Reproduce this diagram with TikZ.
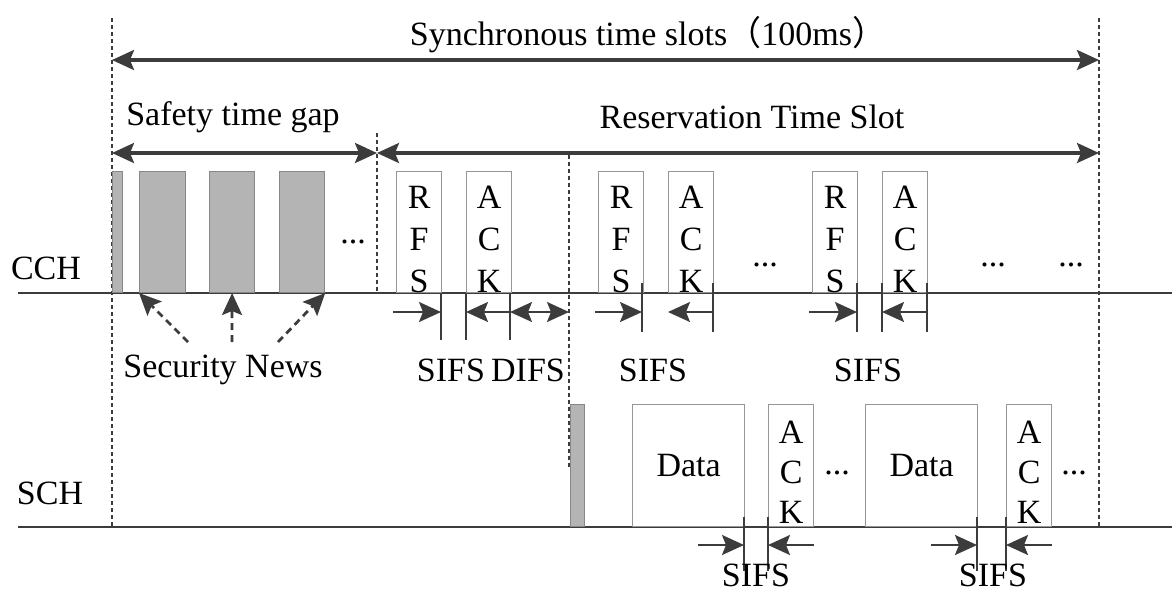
\documentclass[tikz,border=0pt]{standalone}
\usepackage{fontspec}
\setmainfont{Liberation Serif}
\newfontfamily\cjk{Noto Sans CJK SC}
\usepackage{tikz}
\usetikzlibrary{arrows.meta}

\definecolor{linegray}{RGB}{60,60,60}
\definecolor{busygray}{RGB}{180,180,180}
\definecolor{framegray}{RGB}{150,150,150}

\tikzset{
  lbl/.style={font=\fontsize{17}{21}\selectfont,inner sep=0pt},
  stack/.style={lbl,align=center},
  chan/.style={draw=linegray,line width=1.2pt},
  border/.style={draw=linegray,line width=1.1pt,dash pattern=on 2pt off 1.5pt},
  span/.style={draw=linegray,line width=1.6pt},
  gap/.style={draw=linegray,line width=1.1pt},
  tick/.style={draw=linegray,line width=1.1pt},
  news/.style={draw=linegray,line width=1.4pt,dash pattern=on 3.5pt off 2.5pt},
  frame/.style={draw=framegray,line width=0.6pt,anchor=south west,inner sep=0pt,
    minimum width=22.5pt,minimum height=60.5pt},
  busy/.style={frame,fill=busygray,draw=framegray!90!black}
}

\begin{document}
\begin{tikzpicture}[x=0.5pt,y=-0.5pt,>={Stealth[length=11pt,width=10pt,inset=2pt]}]
\useasboundingbox (0,0) rectangle (1172,591);

    % channels
    \coordinate (cchL) at (18,293);  \coordinate (cchR) at (1172,293);
    \coordinate (schL) at (18,527);  \coordinate (schR) at (1172,527);
    \draw[chan] (cchL) -- (cchR);
    \draw[chan] (schL) -- (schR);
    \node[lbl] (cch) at (46,268) {CCH};
    \node[lbl] (sch) at (50,493) {SCH};

    % slot borders
    \coordinate (slotT) at (112,18);    \coordinate (slotB) at (112,527);
    \coordinate (endT) at (1099,18);    \coordinate (endB) at (1099,527);
    \coordinate (gapT) at (377,133);    \coordinate (gapB) at (377,293);
    \coordinate (schT) at (569,155);    \coordinate (schB) at (569,467);
    \draw[border] (slotT) -- (slotB);
    \draw[border] (endT) -- (endB);
    \draw[border] (gapT) -- (gapB);
    \draw[border] (schT) -- (schB);

    % time spans
    \coordinate (syncL) at (112,60);   \coordinate (syncR) at (1099,60);
    \coordinate (safeL) at (112,153);  \coordinate (safeR) at (377,153);
    \coordinate (resR) at (1099,153);
    \draw[span,<->] (syncL) -- (syncR);
    \draw[span,<->] (safeL) -- (safeR);
    \draw[span,<->] (safeR) -- (resR);
    \node[lbl] (sync) at (648,35) {Synchronous time slots{\cjk （}100ms{\cjk ）}};
    \node[lbl] (safe) at (233,117) {Safety time gap};
    \node[lbl] (res) at (752,117) {Reservation Time Slot};

    % security news on CCH
    \node[busy,minimum width=5pt] (sn0) at (112,293) {};
    \node[busy,minimum width=23pt] (sn1) at (139,293) {};
    \node[busy] (sn2) at (209,293) {};
    \node[busy] (sn3) at (279,293) {};
    \node[lbl] (dotsA) at (353,242) {...};
    \node[lbl] (news) at (223,370) {Security News};
    \coordinate (nw1) at (188,342);
    \coordinate (nw2) at (232,342);
    \coordinate (nw3) at (278,342);
    \draw[news,->] (nw1) -- (sn1.south west);
    \draw[news,->] (nw2) -- (sn2.south);
    \draw[news,->] (nw3) -- (sn3.south east);

    % reservation frames on CCH
    \foreach \x/\nm in {396/rfsA,598/rfsB,812/rfsC}
      {\node[frame] (\nm) at (\x,293) {};
       \node[stack] at ([yshift=-3.75pt]\nm.center) {R\\F\\S};}
    \foreach \x/\nm in {466/ackA,668/ackB,882/ackC}
      {\node[frame] (\nm) at (\x,293) {};
       \node[stack] at ([yshift=-3.75pt]\nm.center) {A\\C\\K};}
    \node[lbl] (dotsB) at (765,265) {...};
    \node[lbl] (dotsC) at (993,265) {...};
    \node[lbl] (dotsD) at (1071,265) {...};

    % data frames on SCH
    \node[busy,minimum width=7pt,minimum height=61pt] (sw0) at (570,527) {};
    \node[frame,minimum width=56pt,minimum height=61pt] (dataA) at (632,527) {};
    \node[frame,minimum width=56pt,minimum height=61pt] (dataB) at (865,527) {};
    \node[lbl] at (dataA.center) {Data};
    \node[lbl] at (dataB.center) {Data};
    \foreach \x/\nm in {768/ackD,1006/ackE}
      {\node[frame,minimum height=61pt] (\nm) at (\x,527) {};
       \node[stack,font=\fontsize{17}{20}\selectfont] at ([yshift=-3.5pt]\nm.center) {A\\C\\K};}
    \node[lbl] (dotsE) at (837,473) {...};
    \node[lbl] (dotsF) at (1074,473) {...};

    % interframe spaces, first pair and DIFS
    \foreach \nm/\x in {g1/441,g2/466,g3/510}
      {\coordinate (\nm) at (\x,312); \draw[tick] (\x,293) -- (\x,340);}
    \coordinate (g0) at (393,312);
    \coordinate (g4) at (569,312);
    \draw[gap,->] (g0) -- (g1);
    \draw[gap,->] (g3) -- (g2);
    \draw[gap,<->] (g3) -- (g4);
    \node[lbl] (sifsA) at (451,370) {SIFS};
    \node[lbl] (difs) at (528,370) {DIFS};

    % second and third pair
    \foreach \nm/\x in {h1/642,h3/713,k1/857,k2/882,k3/927}
      {\coordinate (\nm) at (\x,312); \draw[tick] (\x,283) -- (\x,332);}
    \coordinate (h0) at (595,312);  \coordinate (h2) at (668,312);
    \coordinate (k0) at (809,312);
    \draw[gap,->] (h0) -- (h1);
    \draw[gap,->] (h3) -- (h2);
    \draw[gap,->] (k0) -- (k1);
    \draw[gap,->] (k3) -- (k2);
    \node[lbl] (sifsB) at (653,370) {SIFS};
    \node[lbl] (sifsC) at (868,370) {SIFS};

    % SCH pairs
    \foreach \nm/\x in {m1/744,m2/768,n1/977,n2/1006}
      {\coordinate (\nm) at (\x,545); \draw[tick] (\x,517) -- (\x,571);}
    \coordinate (m0) at (698,545);  \coordinate (m3) at (814,545);
    \coordinate (n0) at (931,545);  \coordinate (n3) at (1052,545);
    \draw[gap,->] (m0) -- (m1);
    \draw[gap,->] (m3) -- (m2);
    \draw[gap,->] (n0) -- (n1);
    \draw[gap,->] (n3) -- (n2);
    \node[lbl] (sifsD) at (756,575) {SIFS};
    \node[lbl] (sifsE) at (993,575) {SIFS};

\end{tikzpicture}
\end{document}
